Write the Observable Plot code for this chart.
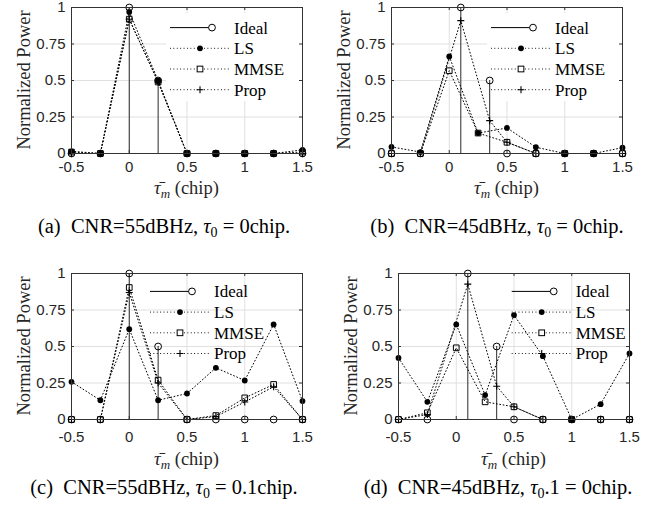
<!DOCTYPE html>
<html><head><meta charset="utf-8">
<script src="https://cdn.jsdelivr.net/npm/d3@7"></script>
<script src="https://cdn.jsdelivr.net/npm/@observablehq/plot@0.6"></script>
<style>
body{margin:0;background:#fff;}
#wrap{position:relative;width:660px;height:508px;overflow:hidden;background:#fff}
.panel{position:absolute}
.cap{position:absolute;font-family:"Liberation Serif",serif;font-size:20.5px;color:#000;white-space:nowrap;transform:translate(-50%,-50%)}
.cap sub{font-size:14px;vertical-align:-4px;line-height:0}
.ser{font-family:"Liberation Serif","Times New Roman",serif}
</style></head><body><div id="wrap"></div><script>
// ---- data ----
const xTicks = [-0.5, 0, 0.5, 1, 1.5];
const yTicks = [0, 0.25, 0.5, 0.75, 1];
const xTickLabels = ["-0.5", "0", "0.5", "1", "1.5"];
const yTickLabels = ["0", "0.25", "0.5", "0.75", "1"];
const seriesNames = ["Ideal", "LS", "MMSE", "Prop"];
const tauGrid  = [-0.5, -0.25, 0, 0.25, 0.5, 0.75, 1, 1.25, 1.5];
const tauShift = [-0.5, -0.25, 0.1, 0.35, 0.5, 0.75, 1, 1.25, 1.5];

// (a) CNR=55dBHz
const idealA = [0, 0, 1, 0.5, 0, 0, 0, 0, 0];
const lsA    = [0.015, 0, 0.97, 0.5, 0, 0, 0, 0, 0.025];
const mmseA  = [0.01, 0, 0.92, 0.49, 0, 0, 0, 0, 0.01];
const propA  = [0, 0, 0.92, 0.49, 0, 0, 0, 0, 0];
// (b) CNR=45dBHz
const idealB = [0, 0, 1, 0.5, 0, 0, 0, 0, 0];
const lsB    = [0.045, 0.01, 0.665, 0.14, 0.175, 0.043, 0, 0, 0.04];
const mmseB  = [0, 0, 0.567, 0.14, 0.077, 0, 0, 0, 0];
const propB  = [0, 0, 0.91, 0.225, 0.077, 0, 0, 0, 0];
// (c) CNR=55dBHz, tau0=0.1
const idealC = [0, 0, 1, 0.5, 0, 0, 0, 0, 0];
const lsC    = [0.258, 0.132, 0.619, 0.132, 0.178, 0.354, 0.267, 0.651, 0.126];
const mmseC  = [0, 0, 0.904, 0.27, 0, 0.027, 0.148, 0.24, 0];
const propC  = [0, 0, 0.87, 0.25, 0, 0.02, 0.12, 0.224, 0];
// (d) CNR=45dBHz
const idealD = [0, 0, 1, 0.5, 0, 0, 0, 0, 0];
const lsD    = [0.422, 0.121, 0.651, 0.167, 0.715, 0.434, 0, 0.105, 0.452];
const mmseD  = [0, 0.046, 0.491, 0.121, 0.087, 0, 0, 0, 0];
const propD  = [0, 0.034, 0.927, 0.228, 0.087, 0, 0, 0, 0];

const captions = [
  '(a)&nbsp; CNR=55dBHz, <i>τ</i><sub>0</sub> = 0chip.',
  '(b)&nbsp; CNR=45dBHz, <i>τ</i><sub>0</sub> = 0chip.',
  '(c)&nbsp; CNR=55dBHz, <i>τ</i><sub>0</sub> = 0.1chip.',
  '(d)&nbsp; CNR=45dBHz, <i>τ</i><sub>0</sub>.1 = 0chip.'
];

// ---- layout ----
const panels = [
  {left:0,   top:0,   ml:71, mr:28, tp:8,  xlOff:41, idealX:tauGrid,  ideal:idealA, ls:lsA, mmse:mmseA, propX:tauGrid,  prop:propA, legS:170, legY:20.6, legBg:true,  cap:captions[0], capX:164, capY:226},
  {left:330, top:0,   ml:61, mr:38, tp:8,  xlOff:41, idealX:tauShift, ideal:idealB, ls:lsB, mmse:mmseB, propX:tauShift, prop:propB, legS:161, legY:20.6, legBg:true,  cap:captions[1], capX:497, capY:226},
  {left:0,   top:266, ml:71, mr:28, tp:12, xlOff:46, idealX:tauGrid,  ideal:idealC, ls:lsC, mmse:mmseC, propX:tauGrid,  prop:propC, legS:150, legY:18.4, legBg:false, cap:captions[2], capX:164, capY:487},
  {left:330, top:266, ml:68, mr:31, tp:12, xlOff:46, idealX:tauShift, ideal:idealD, ls:lsD, mmse:mmseD, propX:tauShift, prop:propD, legS:181.7, legY:18.4, legBg:false, cap:captions[3], capX:498, capY:487}
];

const plusSym = {draw(ctx, size){const r=Math.sqrt(size/Math.PI); ctx.moveTo(-r,0); ctx.lineTo(r,0); ctx.moveTo(0,-r); ctx.lineTo(0,r);}};
const wrap = document.getElementById("wrap");
const DASH = "0.9 2.5";

function build(p){
  const W=330, H=200, mt=7, mb=47;
  const ph=H-mt-mb, pw=W-p.ml-p.mr;
  const rows=(xs,ys)=>xs.map((x,i)=>({x, y:ys[i]}));
  const ideal=rows(p.idealX,p.ideal), ls=rows(tauGrid,p.ls), mmse=rows(tauGrid,p.mmse), prop=rows(p.propX,p.prop);
  const dotted={x:"x", y:"y", stroke:"#000", strokeWidth:1, strokeDasharray:DASH};
  const svg = Plot.plot({
    width:W, height:H, marginTop:mt, marginBottom:mb, marginLeft:p.ml, marginRight:p.mr,
    style:{fontFamily:'"Liberation Sans", Arial, sans-serif', fontSize:"15px", color:"#262626", background:"transparent", overflow:"visible"},
    x:{domain:[-0.5,1.5]},
    y:{domain:[0,1]},
    marks:[
      Plot.gridX(xTicks,{stroke:"#e0e0e0", strokeOpacity:1}),
      Plot.gridY(yTicks,{stroke:"#e0e0e0", strokeOpacity:1}),
      Plot.ruleX(ideal,{x:"x", y:"y", stroke:"#2a2a2a"}),
      Plot.line(ls,dotted), Plot.line(mmse,dotted), Plot.line(prop,dotted),
      Plot.dot(ideal,{x:"x", y:"y", r:3.4, stroke:"#000", fill:"none", strokeWidth:1}),
      Plot.dot(ls,{x:"x", y:"y", r:2.9, fill:"#000", stroke:"none"}),
      Plot.dot(mmse,{x:"x", y:"y", r:3.2, symbol:"square", stroke:"#000", fill:"none", strokeWidth:1}),
      Plot.dot(prop,{x:"x", y:"y", r:3.5, symbol:plusSym, stroke:"#000", fill:"none", strokeWidth:1.1}),
      Plot.tickX(xTicks,{x:d=>d, insetTop:ph-3, stroke:"#333"}),
      Plot.tickX(xTicks,{x:d=>d, insetBottom:ph-3, stroke:"#333"}),
      Plot.tickY(yTicks,{y:d=>d, insetRight:pw-3, stroke:"#333"}),
      Plot.tickY(yTicks,{y:d=>d, insetLeft:pw-3, stroke:"#333"}),
      Plot.frame({stroke:"#333"}),
      Plot.axisX(xTicks,{tickSize:0, tickPadding:p.tp, tickFormat:d=>xTickLabels[xTicks.indexOf(d)], label:null}),
      Plot.axisY(yTicks,{tickSize:0, tickPadding:6, tickFormat:d=>yTickLabels[yTicks.indexOf(d)], label:null})
    ]
  });
  const s=d3.select(svg);
  const R=W-p.mr, T=mt;
  if(p.legBg){
    const yg = svg.querySelector('g[aria-label="y-grid"]');
    const rect = document.createElementNS("http://www.w3.org/2000/svg","rect");
    rect.setAttribute("x", p.legS-4); rect.setAttribute("y", T+6);
    rect.setAttribute("width", R-(p.legS-4)-1); rect.setAttribute("height", 88);
    rect.setAttribute("fill","#fff");
    if(yg && yg.nextSibling) svg.insertBefore(rect, yg.nextSibling); else svg.appendChild(rect);
  }
  const g=s.append("g").attr("text-anchor","start");
  seriesNames.forEach((name,i)=>{
    const y=T+p.legY+i*20.7, x0=p.legS;
    if(i===0){
      g.append("line").attr("x1",x0).attr("x2",x0+42).attr("y1",y).attr("y2",y).attr("stroke","#000");
      g.append("circle").attr("cx",x0+42).attr("cy",y).attr("r",3.4).attr("fill","#fff").attr("stroke","#000");
    } else {
      g.append("line").attr("x1",x0).attr("x2",x0+60).attr("y1",y).attr("y2",y).attr("stroke","#000").attr("stroke-dasharray",DASH);
      const cx=x0+30;
      if(i===1) g.append("circle").attr("cx",cx).attr("cy",y).attr("r",2.9).attr("fill","#000");
      if(i===2) g.append("rect").attr("x",cx-2.85).attr("y",y-2.85).attr("width",5.7).attr("height",5.7).attr("fill","#fff").attr("stroke","#000");
      if(i===3) g.append("path").attr("d",`M${cx-3.5},${y}H${cx+3.5}M${cx},${y-3.5}V${y+3.5}`).attr("stroke","#000").attr("stroke-width",1.1);
    }
    g.append("text").attr("class","ser").attr("x",x0+64).attr("y",y).attr("dy","0.35em")
      .style("font-family",'"Liberation Serif", serif').style("font-size","17px").attr("fill","#000").text(name);
  });
  // y label
  s.append("text").attr("transform",`translate(${p.ml-41.5},${T+ph/2}) rotate(-90)`).attr("text-anchor","middle")
    .style("font-family",'"Liberation Serif", serif').style("font-size","18.5px").attr("fill","#262626").text("Normalized Power");
  // x label
  const xl=s.append("text").attr("x",p.ml+pw/2).attr("y",H-mb+p.xlOff).attr("text-anchor","middle")
    .style("font-family",'"Liberation Serif", serif').style("font-size","18.5px").attr("fill","#262626");
  xl.append("tspan").style("font-style","italic").text("τ\u0304");
  xl.append("tspan").style("font-style","italic").style("font-size","13px").attr("dy",4).text("m");
  xl.append("tspan").attr("dy",-4).text(" (chip)");

  const div=document.createElement("div");
  div.className="panel"; div.style.left=p.left+"px"; div.style.top=p.top+"px";
  div.appendChild(svg); wrap.appendChild(div);
  const cap=document.createElement("div");
  cap.className="cap"; cap.style.left=p.capX+"px"; cap.style.top=p.capY+"px"; cap.innerHTML=p.cap;
  wrap.appendChild(cap);
}
panels.forEach(build);
</script></body></html>
